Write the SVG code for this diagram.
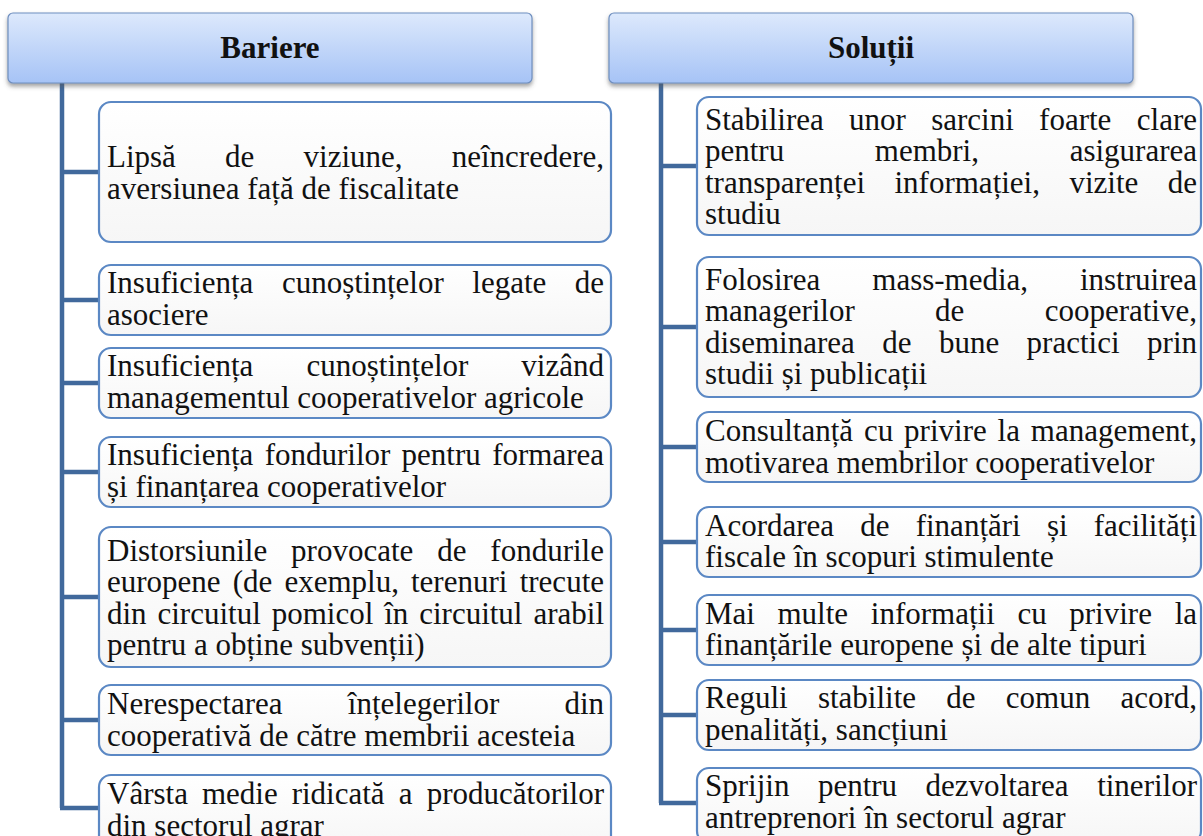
<svg xmlns="http://www.w3.org/2000/svg" width="1203" height="836" viewBox="0 0 1203 836">
<defs>
<linearGradient id="hdr" x1="0" y1="0" x2="0" y2="1">
<stop offset="0" stop-color="#dde9fc"/>
<stop offset="1" stop-color="#a6c3f6"/>
</linearGradient>
<linearGradient id="bx" x1="0" y1="0" x2="0" y2="1">
<stop offset="0" stop-color="#ffffff"/>
<stop offset="1" stop-color="#f6f6f6"/>
</linearGradient>
<filter id="sh" x="-5%" y="-20%" width="110%" height="150%">
<feDropShadow dx="0" dy="3" stdDeviation="2" flood-color="#555" flood-opacity="0.55"/>
</filter>
</defs>
<style>
.hdr{fill:url(#hdr);stroke:#6f8fbf;stroke-width:1.2;filter:url(#sh)}
.box{fill:url(#bx);stroke:#5b88c4;stroke-width:2.2}
.ht{font-family:"Liberation Serif","Times New Roman",serif;font-size:31px;font-weight:bold;fill:#111;text-anchor:middle}
.t{font-family:"Liberation Serif","Times New Roman",serif;font-size:31px;fill:#111}
.conn{fill:none;stroke:#41699c;stroke-width:4.5}
</style>
<rect width="1203" height="836" fill="#ffffff"/>

<g id="connectors">
<path class="conn" d="M62 83 V808 M60 172 H99 M60 300 H99 M60 383 H99 M60 472 H99 M60 597 H99 M60 720 H99 M60 808 H99"/>
<path class="conn" d="M661 83 V803 M659 166 H697 M659 327 H697 M659 447 H697 M659 542 H697 M659 630 H697 M659 715 H697 M659 803 H697"/>
</g>

<g id="header-bariere">
<rect class="hdr" x="8" y="13" width="524" height="70" rx="5"/>
<text class="ht" x="270" y="58">Bariere</text>
</g>
<g id="header-solutii">
<rect class="hdr" x="609" y="13" width="524" height="70" rx="5"/>
<text class="ht" x="871" y="58">Soluții</text>
</g>

<g id="b1">
<rect class="box" x="99" y="102" width="512" height="140" rx="12"/>
<text class="t"><tspan x="107" y="167">Lipsă</tspan><tspan x="225" y="167">de</tspan><tspan x="303.6" y="167">viziune,</tspan><tspan x="604" y="167" text-anchor="end">neîncredere,</tspan></text>
<text class="t" x="107" y="198.5">aversiunea față de fiscalitate</text>
</g>

<g id="b2">
<rect class="box" x="99" y="265" width="512" height="70" rx="12"/>
<text class="t"><tspan x="107" y="293.3">Insuficiența</tspan><tspan x="281.9" y="293.3">cunoștințelor</tspan><tspan x="472.3" y="293.3">legate</tspan><tspan x="604" y="293.3" text-anchor="end">de</tspan></text>
<text class="t" x="107" y="324.8">asociere</text>
</g>

<g id="b3">
<rect class="box" x="99" y="348" width="512" height="70" rx="12"/>
<text class="t"><tspan x="107" y="376.3">Insuficiența</tspan><tspan x="306.5" y="376.3">cunoștințelor</tspan><tspan x="604" y="376.3" text-anchor="end">vizând</tspan></text>
<text class="t" x="107" y="407.8">managementul cooperativelor agricole</text>
</g>

<g id="b4">
<rect class="box" x="99" y="437" width="512" height="70" rx="12"/>
<text class="t"><tspan x="107" y="465.3">Insuficiența</tspan><tspan x="264.7" y="465.3">fondurilor</tspan><tspan x="401.6" y="465.3">pentru</tspan><tspan x="604" y="465.3" text-anchor="end">formarea</tspan></text>
<text class="t" x="107" y="496.8">și finanțarea cooperativelor</text>
</g>

<g id="b5">
<rect class="box" x="99" y="527" width="512" height="140" rx="12"/>
<text class="t"><tspan x="107" y="560.5">Distorsiunile</tspan><tspan x="291.1" y="560.5">provocate</tspan><tspan x="437.2" y="560.5">de</tspan><tspan x="604" y="560.5" text-anchor="end">fondurile</tspan></text>
<text class="t"><tspan x="107" y="592">europene</tspan><tspan x="232.7" y="592">(de</tspan><tspan x="284.4" y="592">exemplu,</tspan><tspan x="411" y="592">terenuri</tspan><tspan x="604" y="592" text-anchor="end">trecute</tspan></text>
<text class="t"><tspan x="107" y="623.5">din</tspan><tspan x="157.5" y="623.5">circuitul</tspan><tspan x="271.7" y="623.5">pomicol</tspan><tspan x="384.2" y="623.5">în</tspan><tspan x="419.2" y="623.5">circuitul</tspan><tspan x="604" y="623.5" text-anchor="end">arabil</tspan></text>
<text class="t" x="107" y="655">pentru a obține subvenții)</text>
</g>

<g id="b6">
<rect class="box" x="99" y="685" width="512" height="70" rx="12"/>
<text class="t"><tspan x="107" y="714">Nerespectarea</tspan><tspan x="347.8" y="714">înțelegerilor</tspan><tspan x="604" y="714" text-anchor="end">din</tspan></text>
<text class="t" x="107" y="745.5">cooperativă de către membrii acesteia</text>
</g>

<g id="b7">
<rect class="box" x="99" y="775" width="512" height="75" rx="12"/>
<text class="t"><tspan x="107" y="804">Vârsta</tspan><tspan x="201.9" y="804">medie</tspan><tspan x="291.7" y="804">ridicată</tspan><tspan x="398.7" y="804">a</tspan><tspan x="604" y="804" text-anchor="end">producătorilor</tspan></text>
<text class="t" x="107" y="835.5">din sectorul agrar</text>
</g>

<g id="s1">
<rect class="box" x="697" y="97" width="504" height="138" rx="12"/>
<text class="t"><tspan x="705" y="129.8">Stabilirea</tspan><tspan x="849.1" y="129.8">unor</tspan><tspan x="931.2" y="129.8">sarcini</tspan><tspan x="1039.1" y="129.8">foarte</tspan><tspan x="1197" y="129.8" text-anchor="end">clare</tspan></text>
<text class="t"><tspan x="705" y="161.3">pentru</tspan><tspan x="874.8" y="161.3">membri,</tspan><tspan x="1197" y="161.3" text-anchor="end">asigurarea</tspan></text>
<text class="t"><tspan x="705" y="192.8">transparenței</tspan><tspan x="894.5" y="192.8">informației,</tspan><tspan x="1069.4" y="192.8">vizite</tspan><tspan x="1197" y="192.8" text-anchor="end">de</tspan></text>
<text class="t" x="705" y="224.3">studiu</text>
</g>

<g id="s2">
<rect class="box" x="697" y="257" width="504" height="140" rx="12"/>
<text class="t"><tspan x="705" y="289.5">Folosirea</tspan><tspan x="872.3" y="289.5">mass-media,</tspan><tspan x="1197" y="289.5" text-anchor="end">instruirea</tspan></text>
<text class="t"><tspan x="705" y="321">managerilor</tspan><tspan x="935.1" y="321">de</tspan><tspan x="1197" y="321" text-anchor="end">cooperative,</tspan></text>
<text class="t"><tspan x="705" y="352.5">diseminarea</tspan><tspan x="882.2" y="352.5">de</tspan><tspan x="938.9" y="352.5">bune</tspan><tspan x="1026.6" y="352.5">practici</tspan><tspan x="1197" y="352.5" text-anchor="end">prin</tspan></text>
<text class="t" x="705" y="384">studii și publicații</text>
</g>

<g id="s3">
<rect class="box" x="697" y="412" width="504" height="70" rx="12"/>
<text class="t"><tspan x="705" y="441">Consultanță</tspan><tspan x="864" y="441">cu</tspan><tspan x="904.1" y="441">privire</tspan><tspan x="997.6" y="441">la</tspan><tspan x="1197" y="441" text-anchor="end">management,</tspan></text>
<text class="t" x="705" y="472.5">motivarea membrilor cooperativelor</text>
</g>

<g id="s4">
<rect class="box" x="697" y="507" width="504" height="70" rx="12"/>
<text class="t"><tspan x="705" y="535.5">Acordarea</tspan><tspan x="860.3" y="535.5">de</tspan><tspan x="915.7" y="535.5">finanțări</tspan><tspan x="1046.9" y="535.5">și</tspan><tspan x="1197" y="535.5" text-anchor="end">facilități</tspan></text>
<text class="t" x="705" y="567">fiscale în scopuri stimulente</text>
</g>

<g id="s5">
<rect class="box" x="697" y="595" width="504" height="70" rx="12"/>
<text class="t"><tspan x="705" y="623.5">Mai</tspan><tspan x="777.5" y="623.5">multe</tspan><tspan x="870.8" y="623.5">informații</tspan><tspan x="1017.4" y="623.5">cu</tspan><tspan x="1069.3" y="623.5">privire</tspan><tspan x="1197" y="623.5" text-anchor="end">la</tspan></text>
<text class="t" x="705" y="655">finanțările europene și de alte tipuri</text>
</g>

<g id="s6">
<rect class="box" x="697" y="680" width="504" height="70" rx="12"/>
<text class="t"><tspan x="705" y="708.3">Reguli</tspan><tspan x="817.9" y="708.3">stabilite</tspan><tspan x="946.3" y="708.3">de</tspan><tspan x="1005.8" y="708.3">comun</tspan><tspan x="1197" y="708.3" text-anchor="end">acord,</tspan></text>
<text class="t" x="705" y="739.8">penalități, sancțiuni</text>
</g>

<g id="s7">
<rect class="box" x="697" y="768" width="504" height="75" rx="12"/>
<text class="t"><tspan x="705" y="796.3">Sprijin</tspan><tspan x="817.9" y="796.3">pentru</tspan><tspan x="925.6" y="796.3">dezvoltarea</tspan><tspan x="1197" y="796.3" text-anchor="end">tinerilor</tspan></text>
<text class="t" x="705" y="827.8">antreprenori în sectorul agrar</text>
</g>
</svg>
